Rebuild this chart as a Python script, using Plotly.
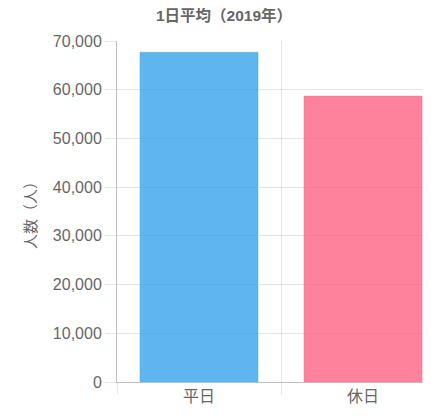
import plotly.graph_objects as go

categories = ["平日", "休日"]
values = [67700, 58700]
colors = ["rgba(54,162,235,0.8)", "rgba(255,99,132,0.8)"]
border_colors = ["rgba(54,162,235,0.35)", "rgba(255,99,132,0.35)"]
y_ticks = [0, 10000, 20000, 30000, 40000, 50000, 60000, 70000]

FONT = "Liberation Sans, Arial, Noto Sans CJK JP, sans-serif"
GRID = "rgba(0,0,0,0.1)"

W, H = 423, 410  # page body has an 8px margin

fig = go.Figure(go.Bar(
    x=categories, y=values,
    marker=dict(color=colors, line=dict(color=border_colors, width=1)),
    width=0.72,
    hoverinfo="skip",
))

fig.update_layout(
    width=W, height=H,
    margin=dict(l=109, r=0, t=33, b=36),
    plot_bgcolor="white", paper_bgcolor="white",
    showlegend=False,
    font=dict(family=FONT, color="#666", size=16),
    title=dict(text="<b>1日平均（2019年）</b>", x=216/W, xanchor="center",
               y=1 - 8/H, yanchor="middle",
               font=dict(size=15.5, color="#666", family=FONT)),
)
fig.update_xaxes(
    type="category", range=[-0.5, 1.4146],
    tickson="boundaries", showgrid=True, gridcolor=GRID, gridwidth=1,
    ticks="outside", ticklen=11, tickcolor=GRID,
    showline=True, linecolor="rgba(0,0,0,0.25)", linewidth=1,
    tickfont=dict(size=16, color="#666"),
)
fig.update_yaxes(
    range=[0, 70000], tickvals=y_ticks, tickformat=",",
    showgrid=True, gridcolor=GRID, gridwidth=1,
    ticks="outside", ticklen=11, tickcolor=GRID,
    showline=True, linecolor="rgba(0,0,0,0.25)", linewidth=1,
    zeroline=False,
    tickfont=dict(size=16, color="#666"),
    title=dict(text="人数（人）", font=dict(size=15, color="#666"), standoff=12),
)

fig.write_html("out.html")
